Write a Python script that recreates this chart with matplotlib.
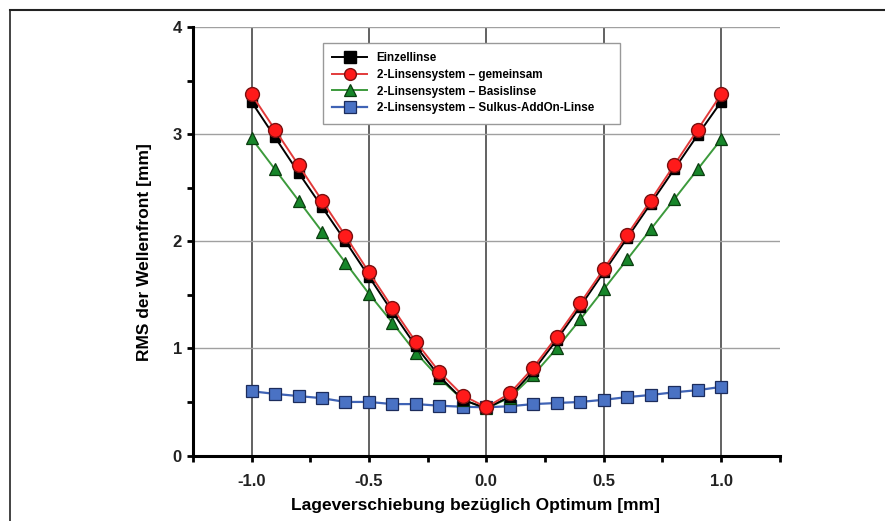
import matplotlib
matplotlib.use("Agg")
import matplotlib.pyplot as plt
from matplotlib.lines import Line2D
from matplotlib.ticker import MultipleLocator

plt.rcParams['font.family'] = ['Liberation Sans', 'DejaVu Sans']

# ----------------------------
# DATA
# ----------------------------
shift = [-1.0, -0.9, -0.8, -0.7, -0.6, -0.5, -0.4, -0.3, -0.2, -0.1, 0.0,
         0.1, 0.2, 0.3, 0.4, 0.5, 0.6, 0.7, 0.8, 0.9, 1.0]

einzellinse = [3.30, 2.97, 2.64, 2.32, 2.00, 1.67, 1.34, 1.02, 0.74, 0.52, 0.44,
               0.55, 0.79, 1.08, 1.39, 1.71, 2.03, 2.35, 2.67, 2.99, 3.30]
gemeinsam = [3.37, 3.04, 2.71, 2.38, 2.05, 1.71, 1.38, 1.06, 0.78, 0.56, 0.45,
             0.58, 0.82, 1.11, 1.42, 1.74, 2.06, 2.38, 2.71, 3.04, 3.37]
basislinse = [2.96, 2.67, 2.38, 2.09, 1.80, 1.51, 1.24, 0.96, 0.72, 0.52, 0.44,
              0.54, 0.75, 1.00, 1.27, 1.55, 1.83, 2.11, 2.39, 2.67, 2.95]
addon = [0.60, 0.575, 0.555, 0.535, 0.50, 0.50, 0.48, 0.48, 0.465, 0.455, 0.45,
         0.46, 0.48, 0.49, 0.50, 0.52, 0.545, 0.565, 0.59, 0.61, 0.64]

labels = ["Einzellinse",
          "2-Linsensystem \u2013 gemeinsam",
          "2-Linsensystem \u2013 Basislinse",
          "2-Linsensystem \u2013 Sulkus-AddOn-Linse"]

# ----------------------------
# FIGURE
# ----------------------------
fig = plt.figure(figsize=(8.85, 5.21), dpi=100)
ax = fig.add_axes([0.218, 0.1257, 0.663, 0.8225])

# frame lines of the original page (top and left only)
fig.add_artist(Line2D([10 / 885, 884 / 885], [1 - 10 / 521, 1 - 10 / 521],
                      color='#222222', lw=1.5, transform=fig.transFigure))
fig.add_artist(Line2D([10 / 885, 10 / 885], [0, 1 - 10 / 521],
                      color='#222222', lw=1.2, transform=fig.transFigure))

h_black, = ax.plot(shift, einzellinse, color='black', lw=1.4, marker='s',
                   markersize=6.5, markerfacecolor='black',
                   markeredgecolor='black', zorder=5)
h_red, = ax.plot(shift, gemeinsam, color='#e23a3a', lw=1.4, marker='o',
                 markersize=10, markerfacecolor='#ff1a1a',
                 markeredgecolor='#7a1010', markeredgewidth=1.0, zorder=6)
h_green, = ax.plot(shift, basislinse, color='#3c9a3c', lw=1.4, marker='^',
                   markersize=9, markerfacecolor='#17862a',
                   markeredgecolor='#0b3d10', markeredgewidth=0.9, zorder=4)
h_blue, = ax.plot(shift, addon, color='#3f63b5', lw=1.6, marker='s',
                  markersize=9, markerfacecolor='#4a72c4',
                  markeredgecolor='#1c2c5c', markeredgewidth=0.9, zorder=3)

ax.set_xlim(-1.25, 1.25)
ax.set_ylim(0, 4)

ax.xaxis.set_major_locator(MultipleLocator(0.5))
ax.xaxis.set_minor_locator(MultipleLocator(0.25))
ax.yaxis.set_major_locator(MultipleLocator(1))
ax.yaxis.set_minor_locator(MultipleLocator(0.5))
ax.set_xticks([-1.0, -0.5, 0.0, 0.5, 1.0])
ax.set_xticklabels(["-1.0", "-0.5", "0.0", "0.5", "1.0"])

for side in ['top', 'right']:
    ax.spines[side].set_visible(False)
for side in ['left', 'bottom']:
    ax.spines[side].set_linewidth(2.2)

ax.tick_params(axis='both', which='both', direction='out', length=4,
               width=2, labelsize=12)
ax.tick_params(axis='x', pad=9.5)
ax.tick_params(axis='y', pad=3.9)
for lab in ax.get_xticklabels() + ax.get_yticklabels():
    lab.set_fontweight('bold')
    lab.set_color('#222222')

ax.grid(axis='x', which='major', color='#555555', lw=1.3)
ax.grid(axis='y', which='major', color='#a0a0a0', lw=1.0)
ax.set_axisbelow(True)

ax.set_xlabel("Lageverschiebung bez\u00fcglich Optimum [mm]", fontsize=12.5,
              fontweight='bold')
ax.set_ylabel("RMS der Wellenfront [mm]", fontsize=12.5, fontweight='bold')
ax.xaxis.set_label_coords(0.482, -0.10)
ax.yaxis.set_label_coords(-0.070, 0.475)

leg = ax.legend([h_black, h_red, h_green, h_blue], labels,
                loc='upper left', bbox_to_anchor=(0.2215, 0.963, 0.506, 0.0),
                mode='expand', prop={'weight': 'bold', 'size': 8.4},
                fancybox=False, framealpha=1, edgecolor='#999999',
                handlelength=3.0, borderpad=0.8, labelspacing=0.4,
                borderaxespad=0)
leg.get_frame().set_linewidth(1.0)
for h in leg.legend_handles:
    h.set_markersize(8.5)

plt.savefig("out.png", dpi=100)
